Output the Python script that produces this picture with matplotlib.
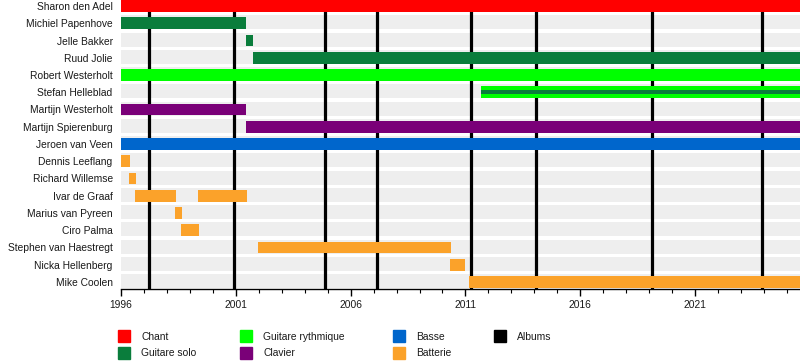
import matplotlib
matplotlib.use("Agg")
import matplotlib.pyplot as plt
from matplotlib.patches import Rectangle

plt.rcParams['font.family'] = ['Liberation Sans', 'DejaVu Sans']

# ---- data ----
members = ["Sharon den Adel", "Michiel Papenhove", "Jelle Bakker", "Ruud Jolie",
           "Robert Westerholt", "Stefan Helleblad", "Martijn Westerholt",
           "Martijn Spierenburg", "Jeroen van Veen", "Dennis Leeflang",
           "Richard Willemse", "Ivar de Graaf", "Marius van Pyreen", "Ciro Palma",
           "Stephen van Haestregt", "Nicka Hellenberg", "Mike Coolen"]

start_year = 1996.0
end_year = 2025.57

# (member index, start, end, role)
periods = [
    (0, 1996.0, 2025.57, "Chant"),
    (1, 1996.0, 2001.44, "Guitare solo"),
    (2, 2001.44, 2001.75, "Guitare solo"),
    (3, 2001.75, 2025.57, "Guitare solo"),
    (4, 1996.0, 2025.57, "Guitare rythmique"),
    (5, 2011.68, 2025.57, "Guitare rythmique"),
    (6, 1996.0, 2001.44, "Clavier"),
    (7, 2001.44, 2025.57, "Clavier"),
    (8, 1996.0, 2025.57, "Basse"),
    (9, 1996.0, 1996.39, "Batterie"),
    (10, 1996.35, 1996.65, "Batterie"),
    (11, 1996.61, 1998.40, "Batterie"),
    (11, 1999.35, 2001.49, "Batterie"),
    (12, 1998.35, 1998.66, "Batterie"),
    (13, 1998.61, 1999.40, "Batterie"),
    (14, 2001.97, 2010.36, "Batterie"),
    (15, 2010.33, 2011.00, "Batterie"),
    (16, 2011.15, 2025.57, "Batterie"),
]

# secondary thin lines (member index, start, end, role)
secondary = [
    (5, 2011.68, 2025.57, "Guitare solo"),
]

albums = [1997.22, 2000.92, 2004.88, 2007.15, 2011.23, 2014.07, 2019.13, 2023.9]

roles = ["Chant", "Guitare solo", "Guitare rythmique", "Clavier", "Basse", "Batterie", "Albums"]
role_colors = {
    "Chant": "#ff0000",
    "Guitare solo": "#0a7d3c",
    "Guitare rythmique": "#00ff00",
    "Clavier": "#7a0078",
    "Basse": "#0066cc",
    "Batterie": "#fba22a",
    "Albums": "#000000",
}

major_ticks = [1996, 2001, 2006, 2011, 2016, 2021]

# ---- figure ----
W, H = 800, 363
fig = plt.figure(figsize=(W / 100, H / 100), dpi=100)
ax_left, ax_right, ax_top, ax_bottom = 121, 800, 0, 289
ax = fig.add_axes([ax_left / W, 1 - ax_bottom / H, (ax_right - ax_left) / W, (ax_bottom - ax_top) / H])

n = len(members)
ax.set_xlim(start_year, end_year)
ax.set_ylim(16.41, -0.35)

FS = 7.4
TXT = "#1a1a1a"

# gray background stripes
for i in range(n):
    ax.barh(i - 0.05, end_year - start_year, left=start_year, height=0.82,
            color="#eeeeee", zorder=1)

# album lines
for a in albums:
    ax.axvline(a, color=role_colors["Albums"], lw=2.3, zorder=2)

# member bars
for i, s, e, r in periods:
    ax.barh(i, e - s, left=s, height=0.68, color=role_colors[r], zorder=3)

for i, s, e, r in secondary:
    ax.barh(i, e - s, left=s, height=0.24, color=role_colors[r], zorder=4)

ax.set_yticks(range(n))
ax.set_yticklabels(members, fontsize=FS, color=TXT)
ax.tick_params(axis="y", length=0, pad=6)

ax.set_xticks(major_ticks)
ax.set_xticklabels([str(t) for t in major_ticks], fontsize=FS, color=TXT)
ax.set_xticks(range(1996, 2026), minor=True)
ax.tick_params(axis="x", which="major", length=5, width=1, pad=3)
ax.tick_params(axis="x", which="minor", length=3, width=0.8)

for sp in ["top", "right", "left"]:
    ax.spines[sp].set_visible(False)
ax.spines["bottom"].set_linewidth(1)

# legend (manual layout, 4 columns x 2 rows)
legend_pos = {
    "Chant": (118, 330), "Guitare solo": (118, 347),
    "Guitare rythmique": (240, 330), "Clavier": (240, 347),
    "Basse": (393, 330), "Batterie": (393, 347),
    "Albums": (494, 330),
}
for r in roles:
    x, y = legend_pos[r]
    fig.patches.append(Rectangle((x / W, 1 - (y + 12) / H), 12 / W, 12 / H,
                                 transform=fig.transFigure, color=role_colors[r]))
    fig.text((x + 23) / W, 1 - (y + 6.5) / H, r, fontsize=FS, va="center",
             ha="left", color=TXT)

fig.savefig("out.png", dpi=100)
